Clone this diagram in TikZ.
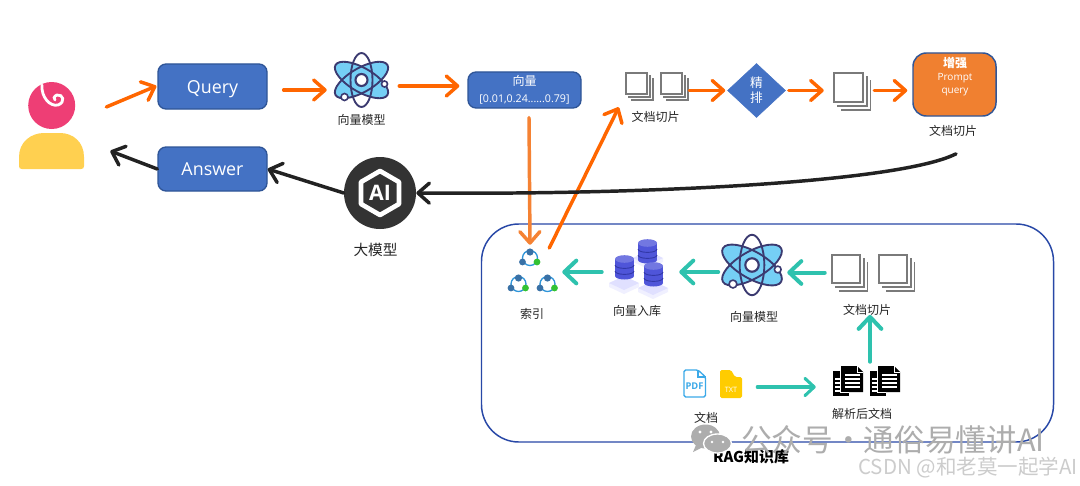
\documentclass[tikz,border=0pt]{standalone}
\usepackage{fontspec}
\setmainfont{Open Sans}
\newfontfamily\cjk{Noto Sans CJK SC}
\usetikzlibrary{arrows.meta,shapes.geometric}
\definecolor{boxblue}{HTML}{4472C4}
\definecolor{boxedge}{HTML}{2F5597}
\definecolor{orangeline}{HTML}{FF6600}
\definecolor{softorange}{HTML}{F58233}
\definecolor{tealline}{HTML}{2EC2AE}
\definecolor{inkdark}{HTML}{222222}
\definecolor{navyline}{HTML}{3B3A70}
\definecolor{atomblue}{HTML}{75CFF5}
\definecolor{dbblue}{HTML}{4F55D9}
\definecolor{dbdark}{HTML}{3238A8}
\definecolor{headpink}{HTML}{EE3E75}
\definecolor{bodyyellow}{HTML}{FFD050}
\definecolor{promptorange}{HTML}{F08030}
\definecolor{aidark}{HTML}{333333}
\definecolor{pdfblue}{HTML}{3BA9E8}
\definecolor{txtyellow}{HTML}{FFCC00}
\tikzset{
  sz/.style 2 args={minimum width=#1*0.75pt,minimum height=#2*0.75pt,inner sep=0pt},
  bluebox/.style={draw=boxedge,fill=boxblue,line width=1pt,rounded corners=6pt,text=white,align=center},
  labeltext/.style={font=\cjk\fontsize{9}{11}\selectfont,text=black!85,inner sep=0pt},
  iconbox/.style={inner sep=0pt},
  flow/.style={line width=2.6pt,line cap=round,-{Straight Barb[round,length=8.5pt,width=15pt]}},
  oflow/.style={flow,draw=orangeline},
  sflow/.style={flow,draw=softorange},
  dflow/.style={flow,draw=inkdark},
  tflow/.style={line width=3pt,line cap=round,draw=tealline,-{Straight Barb[round,length=9pt,width=17pt]}},
  tthin/.style={line width=2.3pt,line cap=round,draw=tealline,-{Straight Barb[round,length=7pt,width=13pt]}},
  pics/stackicon/.style={code={
    \draw[draw=black!52,line width=1.3pt] (1,1) rectangle (29,29);
    \draw[draw=black!52,line width=1.3pt] (33,4) -- (33,33) -- (4,33);
    \draw[draw=black!52,line width=1.3pt] (36.5,8) -- (36.5,37) -- (8,37);
  }},
  pics/atomicon/.style={code={
    \fill[atomblue] (0,0) circle [x radius=30,y radius=12,rotate=30];
    \fill[atomblue] (0,0) circle [x radius=30,y radius=12,rotate=-30];
    \fill[atomblue] (0,0) circle [radius=14];
    \draw[navyline,line width=1.4pt] (0,0) circle [x radius=30,y radius=12,rotate=30];
    \draw[navyline,line width=1.4pt] (0,0) circle [x radius=30,y radius=12,rotate=-30];
    \draw[navyline,line width=1.4pt] (0,0) circle [x radius=11,y radius=27];
    \draw[navyline,line width=1.6pt,fill=white] (0,0) circle [radius=6];
    \draw[navyline,line width=1.2pt,fill=white] (23,4) circle [radius=3];
    \draw[navyline,line width=1.2pt,fill=white] (-17,17) circle [radius=3.5];
  }},
  pics/indexicon/.style={code={
    \draw[draw=cyan!70!blue!85,line width=1pt] (0,0) circle [radius=7.5];
    \fill[cyan!60!blue!75!black] (0,-6) circle [radius=3.6];
    \fill[cyan!60!blue!75!black] (-7.5,4) circle [radius=3.4];
    \fill[green!70!black!80] (7,4) circle [radius=3.4];
  }},
  pics/dbicon/.style={code={
    \fill[dbblue] (0,9) circle [x radius=9.5,y radius=3.5];
    \fill[dbblue] (-9.5,-8) rectangle (9.5,9);
    \fill[dbblue!80!white] (0,-8) circle [x radius=9.5,y radius=3.8];
    \draw[dbdark,line width=.7pt] (-9.5,-2) .. controls (-9.5,2.5) and (9.5,2.5) .. (9.5,-2);
    \draw[dbdark,line width=.7pt] (-9.5,4) .. controls (-9.5,8.5) and (9.5,8.5) .. (9.5,4);
  }},
  pics/baseicon/.style={code={
    \fill[blue!6] (-15,0) -- (-15,4) -- (0,11) -- (15,4) -- (15,0) -- cycle;
    \fill[blue!12] (0,-7) -- (15,0) -- (0,7) -- (-15,0) -- cycle;
  }},
  pics/docicon/.style={code={
    \fill[black] (0,5) rectangle (16,30);
    \fill[black] (8,0) -- (24,0) -- (30,6) -- (30,26) -- (8,26) -- cycle;
    \draw[white,line width=.6pt] (7.4,0) -- (7.4,26.5) -- (16,26.5);
    \draw[white,line width=.6pt] (24,0) -- (24,6) -- (30,6);
    \foreach \yy in {9,13,17,21}{\draw[white,line width=.8pt] (12,\yy) -- (27,\yy);}
    \foreach \yy in {13,17,21,25}{\draw[white,line width=.8pt] (2,\yy) -- (7,\yy);}
  }},
}
\begin{document}
\begin{tikzpicture}[x=0.75pt,y=-0.75pt]
\useasboundingbox (0,0) rectangle (1080,485);
\fill[white] (0,0) rectangle (1080,485);

% RAG frame
\node[sz={572}{218},draw=boxedge!85!blue,line width=1.1pt,rounded corners=28pt] (rag) at (767.5,333) {};

% person
\node[iconbox,sz={65}{87}] (person) at (51.5,125.5) {};
\fill[headpink] (51.7,105.5) circle [radius=23.5];
\fill[bodyyellow] (19,166) -- (19,157) .. controls (19,142) and (31,133) .. (44,133) -- (60,133) .. controls (73,133) and (84,142) .. (84,157) -- (84,166) .. controls (84,168) and (83,169) .. (81,169) -- (22,169) .. controls (20,169) and (19,168) .. (19,166) -- cycle;
\draw[white,line width=2.1pt,line cap=round] (42,85) .. controls (41,97) and (50,107) .. (58,105) .. controls (66,102) and (63,94) .. (57,95) .. controls (54,96) and (53,99) .. (55,100);

% top row
\node[bluebox,sz={109}{45},font=\fontsize{13.4}{16}\selectfont] (query) at (212.5,86.5) {\raisebox{-5.5pt}[0pt][0pt]{Query}};
\node[bluebox,sz={109}{44},font=\fontsize{13.4}{16}\selectfont] (answer) at (212.5,169) {Answer};
\node[iconbox,sz={55}{54}] (atomA) at (361.5,80) {};
\pic at (361.5,80) {atomicon};
\node[labeltext] (atomAlab) at (361.5,119.5) {向量模型};
\node[bluebox,sz={113}{36},font=\fontsize{8}{12.5}\selectfont] (vec) at (524.5,90) {{\cjk\fontsize{9}{12.5}\selectfont 向量}\\{}[0.01,0.24......0.79]};
\node[iconbox,sz={28}{28}] (stackA) at (639,86) {};
\pic[scale=0.76] at (625,72) {stackicon};
\node[iconbox,sz={28}{28}] (stackB) at (674,86) {};
\pic[scale=0.76] at (660,72) {stackicon};
\node[labeltext] (stacklab) at (655.5,117) {文档切片};
\node[diamond,aspect=1.07,draw=boxblue,fill=boxblue,sz={58}{54},text=white,align=center,font=\cjk\fontsize{9.5}{11.5}\selectfont] (rank) at (756.5,90.5) {精\\排};
\node[iconbox,sz={38}{39}] (stackC) at (852,91.5) {};
\pic[scale=1.03] at (833,72) {stackicon};
\node[draw=boxedge,fill=promptorange,line width=1.1pt,rounded corners=10pt,sz={83}{63}] (prompt) at (954.5,84.5) {};
\node[inner sep=0pt,text=white,font=\cjk\bfseries\fontsize{9}{11}\selectfont] (ptitle) at (955,63) {增强};
\node[inner sep=0pt,text=white,font=\fontsize{7.5}{9}\selectfont] (pword) at (955,78) {Prompt};
\node[inner sep=0pt,text=white,font=\fontsize{7.5}{9}\selectfont] (qword) at (955,92) {query};
\node[labeltext] (promptlab) at (953,131) {文档切片};

% AI
\node[circle,fill=aidark,sz={72}{72}] (ai) at (380,193) {};
\draw[white,line width=3.5pt,line join=round] (380,171) -- (399,182) -- (399,204) -- (380,215) -- (361,204) -- (361,182) -- cycle;
\node[inner sep=0pt,text=white,font=\bfseries\fontsize{16}{17}\selectfont] (aiword) at (380,193) {AI};
\node[labeltext,font=\cjk\fontsize{11}{13}\selectfont] (ailab) at (375.5,250) {大模型};

% index
\node[iconbox,sz={50}{46}] (idx) at (532,269) {};
\pic at (530,258) {indexicon};
\pic at (518.5,284) {indexicon};
\pic at (547.5,284) {indexicon};
\node[labeltext] (idxlab) at (532,314) {索引};

% vector store
\node[iconbox,sz={56}{54}] (store) at (639,267) {};
\pic at (648,258) {baseicon};
\pic at (647.5,251) {dbicon};
\pic at (624,283) {baseicon};
\pic at (624.5,267) {dbicon};
\pic at (653,288) {baseicon};
\pic at (653.5,274) {dbicon};
\node[labeltext] (storelab) at (637,311) {向量入库};

\node[iconbox,sz={57}{63}] (atomB) at (752,265) {};
\pic[scale=1.12] at (752,265) {atomicon};
\node[labeltext] (atomBlab) at (754,317) {向量模型};

\node[iconbox,sz={37}{38}] (stackD) at (849.5,273) {};
\pic at (831,254) {stackicon};
\node[iconbox,sz={37}{38}] (stackE) at (896.5,273) {};
\pic at (878,254) {stackicon};
\node[labeltext] (stackDlab) at (867,310) {文档切片};

\node[iconbox,sz={30}{30}] (docA) at (848,381) {};
\pic at (833,366) {docicon};
\node[iconbox,sz={30}{30}] (docB) at (885,381) {};
\pic at (870,366) {docicon};
\node[labeltext] (doclab) at (862,414) {解析后文档};

% source files
\node[iconbox,sz={23}{29}] (pdf) at (694.5,383.5) {};
\draw[draw=pdfblue,line width=1pt,line join=round,rounded corners=1.2pt] (684,370) -- (698,370) -- (705.5,377) -- (705.5,397) -- (684,397) -- cycle;
\draw[draw=pdfblue,line width=.8pt] (698,370) -- (698,377) -- (705.5,377);
\node[inner sep=0pt,text=pdfblue,font=\bfseries\fontsize{7}{8}\selectfont] (pdfword) at (694.5,386) {PDF};
\node[iconbox,sz={22}{28}] (txt) at (731,384) {};
\fill[txtyellow,rounded corners=1.2pt] (720,370) -- (731,370) -- (735,377) -- (742,377) -- (742,398) -- (720,398) -- cycle;
\node[inner sep=0pt,text=white,font=\fontsize{5.5}{7}\selectfont] (txtword) at (731,390) {TXT};
\node[labeltext] (srclab) at (706,418) {文档};

% connectors
\draw[oflow] ([shift={(-51,20.5)}]query.west) -- ([shift={(-1,-.5)}]query.west);
\draw[oflow] ([shift={(16,3.5)}]query.east) -- ([shift={(-7,10)}]atomA.west);
\draw[oflow] ([shift={(10,6)}]atomA.east) -- ([shift={(-8,-4)}]vec.west);
\draw[sflow] ([shift={(4.5,9)}]vec.south) -- ([shift={(-2,-1)}]idx.north);
\draw[oflow] ([shift={(-8,-21)}]idx.east) -- ([shift={(-6,7)}]stackA.south west);
\draw[oflow] ([shift={(1,4.5)}]stackB.east) -- ([shift={(-2,0)}]rank.west);
\draw[oflow] ([shift={(3,0)}]rank.east) -- ([shift={(-9,-1)}]stackC.west);
\draw[oflow] ([shift={(3,-1)}]stackC.east) -- ([shift={(-5,6)}]prompt.west);
\draw[dflow] ([shift={(3,17)}]promptlab.south) .. controls (900,182) and (650,195) .. (ai.east);
\draw[dflow] (ai.west) -- (answer.east);
\draw[dflow] (answer.west) -- ([shift={(26,25.5)}]person.east);
\draw[tflow] ([shift={(-6,-0.5)}]stackD.west) -- ([shift={(6.5,7.5)}]atomB.east);
\draw[tflow] ([shift={(-5,7)}]atomB.west) -- ([shift={(12,5)}]store.east);
\draw[tflow] ([shift={(-9,5)}]store.west) -- ([shift={(5,3)}]idx.east);
\draw[tflow] ([shift={(-15,-4)}]docB.north) -- ([shift={(3,-1)}]stackDlab.south);
\draw[tthin] ([shift={(15,3)}]txt.east) -- ([shift={(-17,6)}]docA.west);

% title and watermark
\node[inner sep=0pt,text=black,font=\cjk\bfseries\fontsize{11.2}{13}\selectfont] (ragtitle) at (751,457) {RAG知识库};
\fill[black!32] (705.5,436.5) circle [x radius=14.5,y radius=12];
\fill[black!32] (696,445) -- (693,452) -- (703,447) -- cycle;
\draw[white,line width=1pt,fill=black!32] (717.5,443.5) circle [x radius=14,y radius=9.5];
\fill[white] (700,432) circle [radius=1.7];
\fill[white] (711,432) circle [radius=1.7];
\fill[white] (712,442) circle [radius=1.4];
\fill[white] (723,442) circle [radius=1.4];
\node[anchor=west,inner sep=0pt,text=black!32,font=\cjk\fontsize{23}{27}\selectfont] (mark) at (741,440) {公众号・通俗易懂讲AI};
\node[anchor=east,inner sep=0pt,text=black!20,font=\cjk\fontsize{15.4}{18}\selectfont] (csdn) at (1078,468) {CSDN @和老莫一起学AI};
\end{tikzpicture}
\end{document}
